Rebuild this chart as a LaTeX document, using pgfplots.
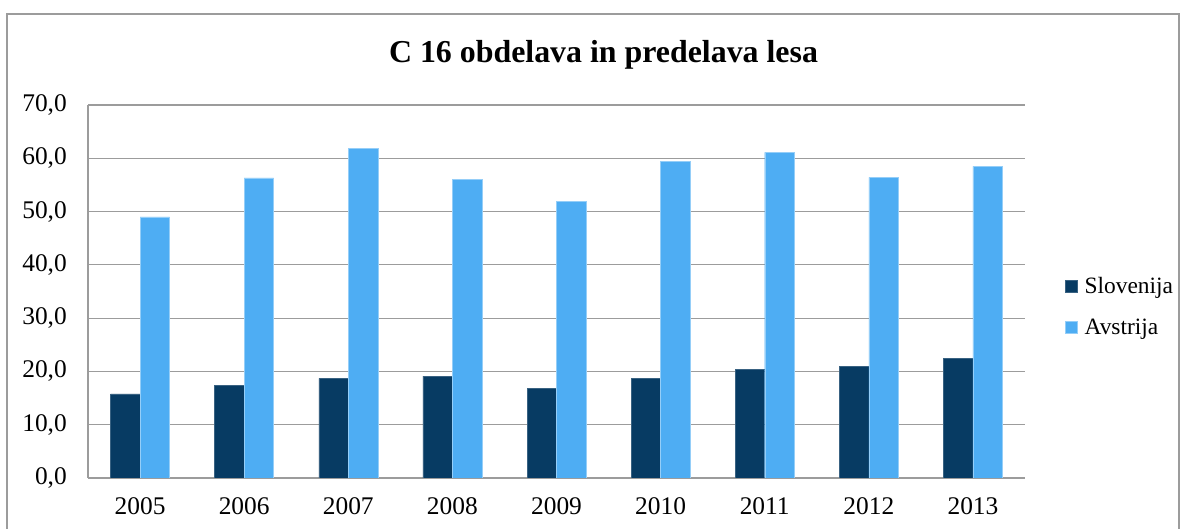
\documentclass[border=0pt]{standalone}
\usepackage{fontspec}
\setmainfont{Liberation Serif}
\usepackage{pgfplots}
\pgfplotsset{compat=1.18}
\definecolor{slo}{HTML}{073B63}
\definecolor{avs}{HTML}{4EADF3}
\definecolor{gridc}{HTML}{9C9C9C}
\begin{document}
\begin{tikzpicture}
\path[use as bounding box] (0,0) rectangle (1187bp,529bp);
\draw[gridc, line width=1.2bp] (7bp,-10bp) -- (7bp,515bp) -- (1179bp,515bp) -- (1179bp,-10bp);
\node[anchor=base, inner sep=0pt, font=\fontsize{32}{38}\selectfont\bfseries] at (603.5bp,466bp) {C 16 obdelava in predelava lesa};
\begin{axis}[
  at={(88bp,51bp)}, anchor=south west,
  scale only axis, width=937bp, height=373bp,
  ybar=0pt, bar width=29.5bp,
  xmin=-0.5, xmax=8.5, ymin=0, ymax=70,
  xtick={0,...,8},
  xticklabels={2005,2006,2007,2008,2009,2010,2011,2012,2013},
  ytick={0,10,...,70},
  major tick length=0pt,
  axis x line*=bottom, axis y line*=left,
  axis line style={gridc, line width=1.2bp, -},
  ymajorgrids, grid style={gridc, line width=1.2bp},
  /pgf/number format/.cd, fixed, fixed zerofill, precision=1, use comma, assume math mode=true,
  /pgfplots/.cd,
  tick label style={font=\fontsize{25.5}{30}\selectfont, inner sep=0pt},
  yticklabel style={xshift=-21bp},
  xticklabel style={yshift=-19bp},
  legend style={at={(1.0427,0.46)}, anchor=west, draw=none, fill=none,
    font=\fontsize{23.5}{28}\selectfont, row sep=20bp, inner sep=0pt,
    /tikz/every odd column/.style={column sep=5bp}},
  legend cell align=left,
  legend image code/.code={\fill[#1] (0bp,-6bp) rectangle (12bp,6bp);},
]
\addplot[fill=slo, draw=slo!80!white, line width=0.4bp] coordinates {
(0,15.8) (1,17.4) (2,18.7) (3,19.1) (4,16.8) (5,18.7) (6,20.4) (7,20.9) (8,22.4)};
\addplot[fill=avs, draw=avs!60!white, line width=0.4bp] coordinates {
(0,49.0) (1,56.3) (2,61.8) (3,56.1) (4,51.9) (5,59.4) (6,61.1) (7,56.4) (8,58.5)};
\legend{Slovenija,Avstrija}
\end{axis}
\end{tikzpicture}
\end{document}
